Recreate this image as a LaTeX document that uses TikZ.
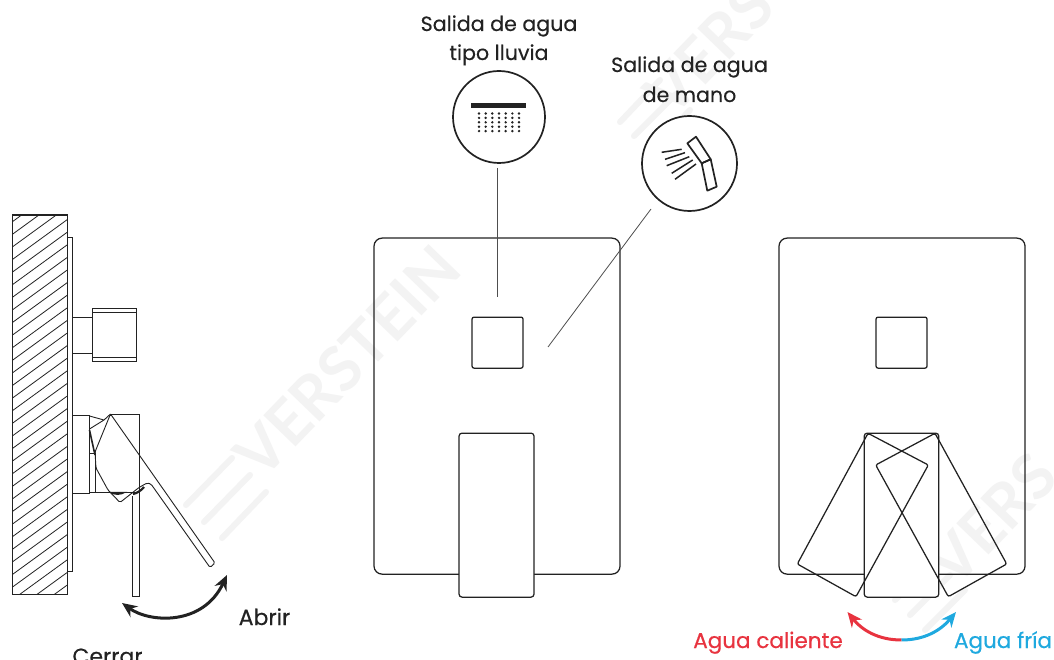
\documentclass[tikz,border=0pt]{standalone}
\usepackage{fontspec}
\setmainfont{Poppins}
\newfontfamily\markfont{Lato}
\usetikzlibrary{arrows.meta}
\definecolor{ink}{HTML}{222222}
\definecolor{wm}{HTML}{F3F3F3}
\definecolor{hot}{HTML}{E8333F}
\definecolor{cold}{HTML}{1FA9DF}
\tikzset{
  line/.style={draw=ink,line width=1.25pt},
  thin line/.style={draw=ink,line width=.9pt},
  lead line/.style={draw=ink!80,line width=.8pt},
  label text/.style={font=\fontsize{20.6}{25}\selectfont\addfontfeatures{FakeBold=0.25},text=ink,inner sep=0pt,anchor=base},
  big text/.style={font=\fontsize{22}{25}\selectfont\addfontfeatures{FakeBold=0.25},text=ink,inner sep=0pt,anchor=base},
  temp text/.style={font=\fontsize{21.5}{25}\selectfont\addfontfeatures{FakeBold=0.5},inner sep=0pt,anchor=base},
  icon circle/.style={circle,draw=ink,line width=1.7pt,inner sep=0pt,fill=white},
  mark text/.style={font=\markfont\fontsize{62}{62}\selectfont\bfseries,text=wm,rotate=46,inner sep=0pt,anchor=base west},
  stripe/.style={draw=wm,line width=6pt,line cap=round},
  swing/.style={line width=3pt,-{Stealth[length=15pt,width=13pt]}},
}
\begin{document}
\begin{tikzpicture}[x=1pt,y=-1pt]
\useasboundingbox (0,0) rectangle (1054,660);
\fill[white] (0,0) rectangle (1054,660);
% watermark
\node[mark text] (m1) at (262,482) {VERSTEIN};
\draw[stripe] (186,505) -- (232,458) (204,522) -- (250,475) (222,538) -- (266,492);
\node[mark text] (m2) at (672,120) {VERS};
\draw[stripe] (620,122) -- (660,80) (634,136) -- (676,94) (650,152) -- (690,110);
\node[mark text] (m3) at (955,590) {VERS};
\draw[stripe] (895,600) -- (935,560) (910,615) -- (950,575) (925,630) -- (965,590);
% wall section
\begin{scope}
\clip (12,215) rectangle (67,594);
\foreach \k in {0,...,34}{
  \draw[ink,line width=.8pt] (12,{222+\k*12.6}) -- (67,{222+\k*12.6-40});
}
\end{scope}
\node[line,draw,minimum width=55pt,minimum height=379pt,inner sep=0pt,anchor=north west] (wall) at (11.5,214.5) {};
\node[thin line,draw,minimum width=5.5pt,minimum height=333pt,inner sep=0pt,anchor=north west] (plate) at (66.5,237.5) {};
\node[line,draw,minimum width=20pt,minimum height=36pt,inner sep=0pt,anchor=north west] (stem) at (72,316.5) {};
\node[line,draw,fill=white,minimum width=43.5pt,minimum height=53pt,inner sep=0pt,anchor=north west] (knob) at (92,307.5) {};
\draw[thin line] (92.5,312) -- (136,312) (92.5,357) -- (136,357);
\node[line,draw,minimum width=17pt,minimum height=78pt,inner sep=0pt,anchor=north west] (body) at (72,414.5) {};
\draw[thin line] (89.5,453) -- (95,453) -- (95,492) -- (89.5,492);
\draw[thin line] (110,414) -- (139,414) -- (139,492) -- (95,492);
% side lever, vertical
\draw[thin line] (132,496) -- (132,596.5) -- (139,596.5) -- (139,492);
% side lever, tilted
\draw[thin line,rounded corners=1.5pt] (110.5,414) -- (215,563) -- (210,567.5) -- (151,484) -- (147,483) -- (139,487.5) -- (120,502.5) -- (108,490) -- (96,468) -- (95,452) -- cycle;
\draw[thin line] (89.5,416) -- (104,420) -- (110.5,414) (89.5,429) -- (104,420);
\draw[ink,line width=1.6pt] (89.5,430) -- (95,455);
\fill[ink] (108,491.8) .. controls (114,496) and (121,496) .. (127,491.8) -- cycle;
\draw[ink,line width=2.2pt] (133,494) .. controls (136,493.5) and (141,491) .. (144,487);
% side arrow
\coordinate (openA) at (122,603);
\coordinate (openB) at (227,575);
\draw[ink,line width=3pt,{Stealth[length=15pt,width=13pt]}-{Stealth[length=15pt,width=13pt]}] (openA) .. controls (150,623) and (203,626) .. (openB);
\node[big text] (abrir) at (264.5,625) {Abrir};
\node[big text] (cerrar) at (107.5,664) {Cerrar};
% central plate
\node[line,draw,rounded corners=8pt,minimum width=246pt,minimum height=336pt,inner sep=0pt,anchor=north west] (panelA) at (373.4,237.5) {};
\node[line,draw,rounded corners=2pt,minimum width=51pt,minimum height=51pt,inner sep=0pt,anchor=north west] (btnA) at (471.4,316.5) {};
\node[line,draw,fill=white,rounded corners=3pt,minimum width=75pt,minimum height=164pt,inner sep=0pt,anchor=north west] (handleA) at (458.4,432.5) {};
% icons
\node[icon circle,minimum size=92pt] (rain) at (499,117) {};
\node[icon circle,minimum size=95pt] (hand) at (689.5,163.5) {};
\coordinate (rainStart) at (497,168);
\coordinate (rainEnd) at (497,297);
\coordinate (handStart) at (651,209);
\coordinate (handEnd) at (548,347);
\draw[lead line] (rainStart) -- (rainEnd);
\draw[lead line] (handStart) -- (handEnd);
\fill[ink] (471,103.5) rectangle (526,108.5);
\foreach \c in {0,...,6}{\foreach \r in {0,...,4}{
  \fill[ink] ({479+\c*6.67},{113.5+\r*4.4}) circle (1.35pt);
}}
\draw[ink,line width=1.7pt,line join=round] (687.3,143.3) -- (696,136.7) -- (710.7,159.3) -- (701.7,163.3) -- cycle;
\draw[ink,line width=1.7pt,line join=round] (701.7,163.3) -- (710.7,159.3) -- (716.7,186.7) -- (707.3,190.7) -- cycle;
\draw[ink,line width=1.5pt] (661.7,152.3) -- (681.7,149.3) (665,159.3) -- (685,152.7) (666.7,165.7) -- (689.3,156.7) (671.7,173.3) -- (692.7,160) (675,179.3) -- (696,164);
\node[label text] (t1) at (499,31) {Salida de agua};
\node[label text] (t2) at (499,60) {tipo lluvia};
\node[label text] (t3) at (689.5,72) {Salida de agua};
\node[label text] (t4) at (689.5,102) {de mano};
% right plate
\node[line,draw,rounded corners=8pt,minimum width=246pt,minimum height=336pt,inner sep=0pt,anchor=north west] (panelB) at (778.4,237.5) {};
\node[line,draw,rounded corners=2pt,minimum width=51pt,minimum height=51pt,inner sep=0pt,anchor=north west] (btnB) at (875.4,316.5) {};
\node[line,draw,fill=white,rounded corners=3pt,minimum width=74.5pt,minimum height=164pt,inner sep=0pt,anchor=north west] (handleB) at (863.6,432.5) {};
\draw[line,rounded corners=2pt] (868,433.3) -- (928.3,465) -- (856,596.7) -- (797.3,564) -- cycle;
\draw[line,rounded corners=2pt] (935,433.3) -- (875.7,465) -- (948.3,596.7) -- (1006.7,564) -- cycle;
% temperature arrows
\coordinate (mid) at (901.5,640);
\coordinate (hotEnd) at (847.5,612);
\coordinate (coldEnd) at (956,612);
\draw[hot,swing] (mid) .. controls (878,640) and (862,630) .. (hotEnd);
\draw[cold,swing] (mid) .. controls (925,640) and (941,630) .. (coldEnd);
\node[temp text,text=hot] (hotT) at (768,648) {Agua caliente};
\node[temp text,text=cold] (coldT) at (1003,648) {Agua fría};
\end{tikzpicture}
\end{document}
